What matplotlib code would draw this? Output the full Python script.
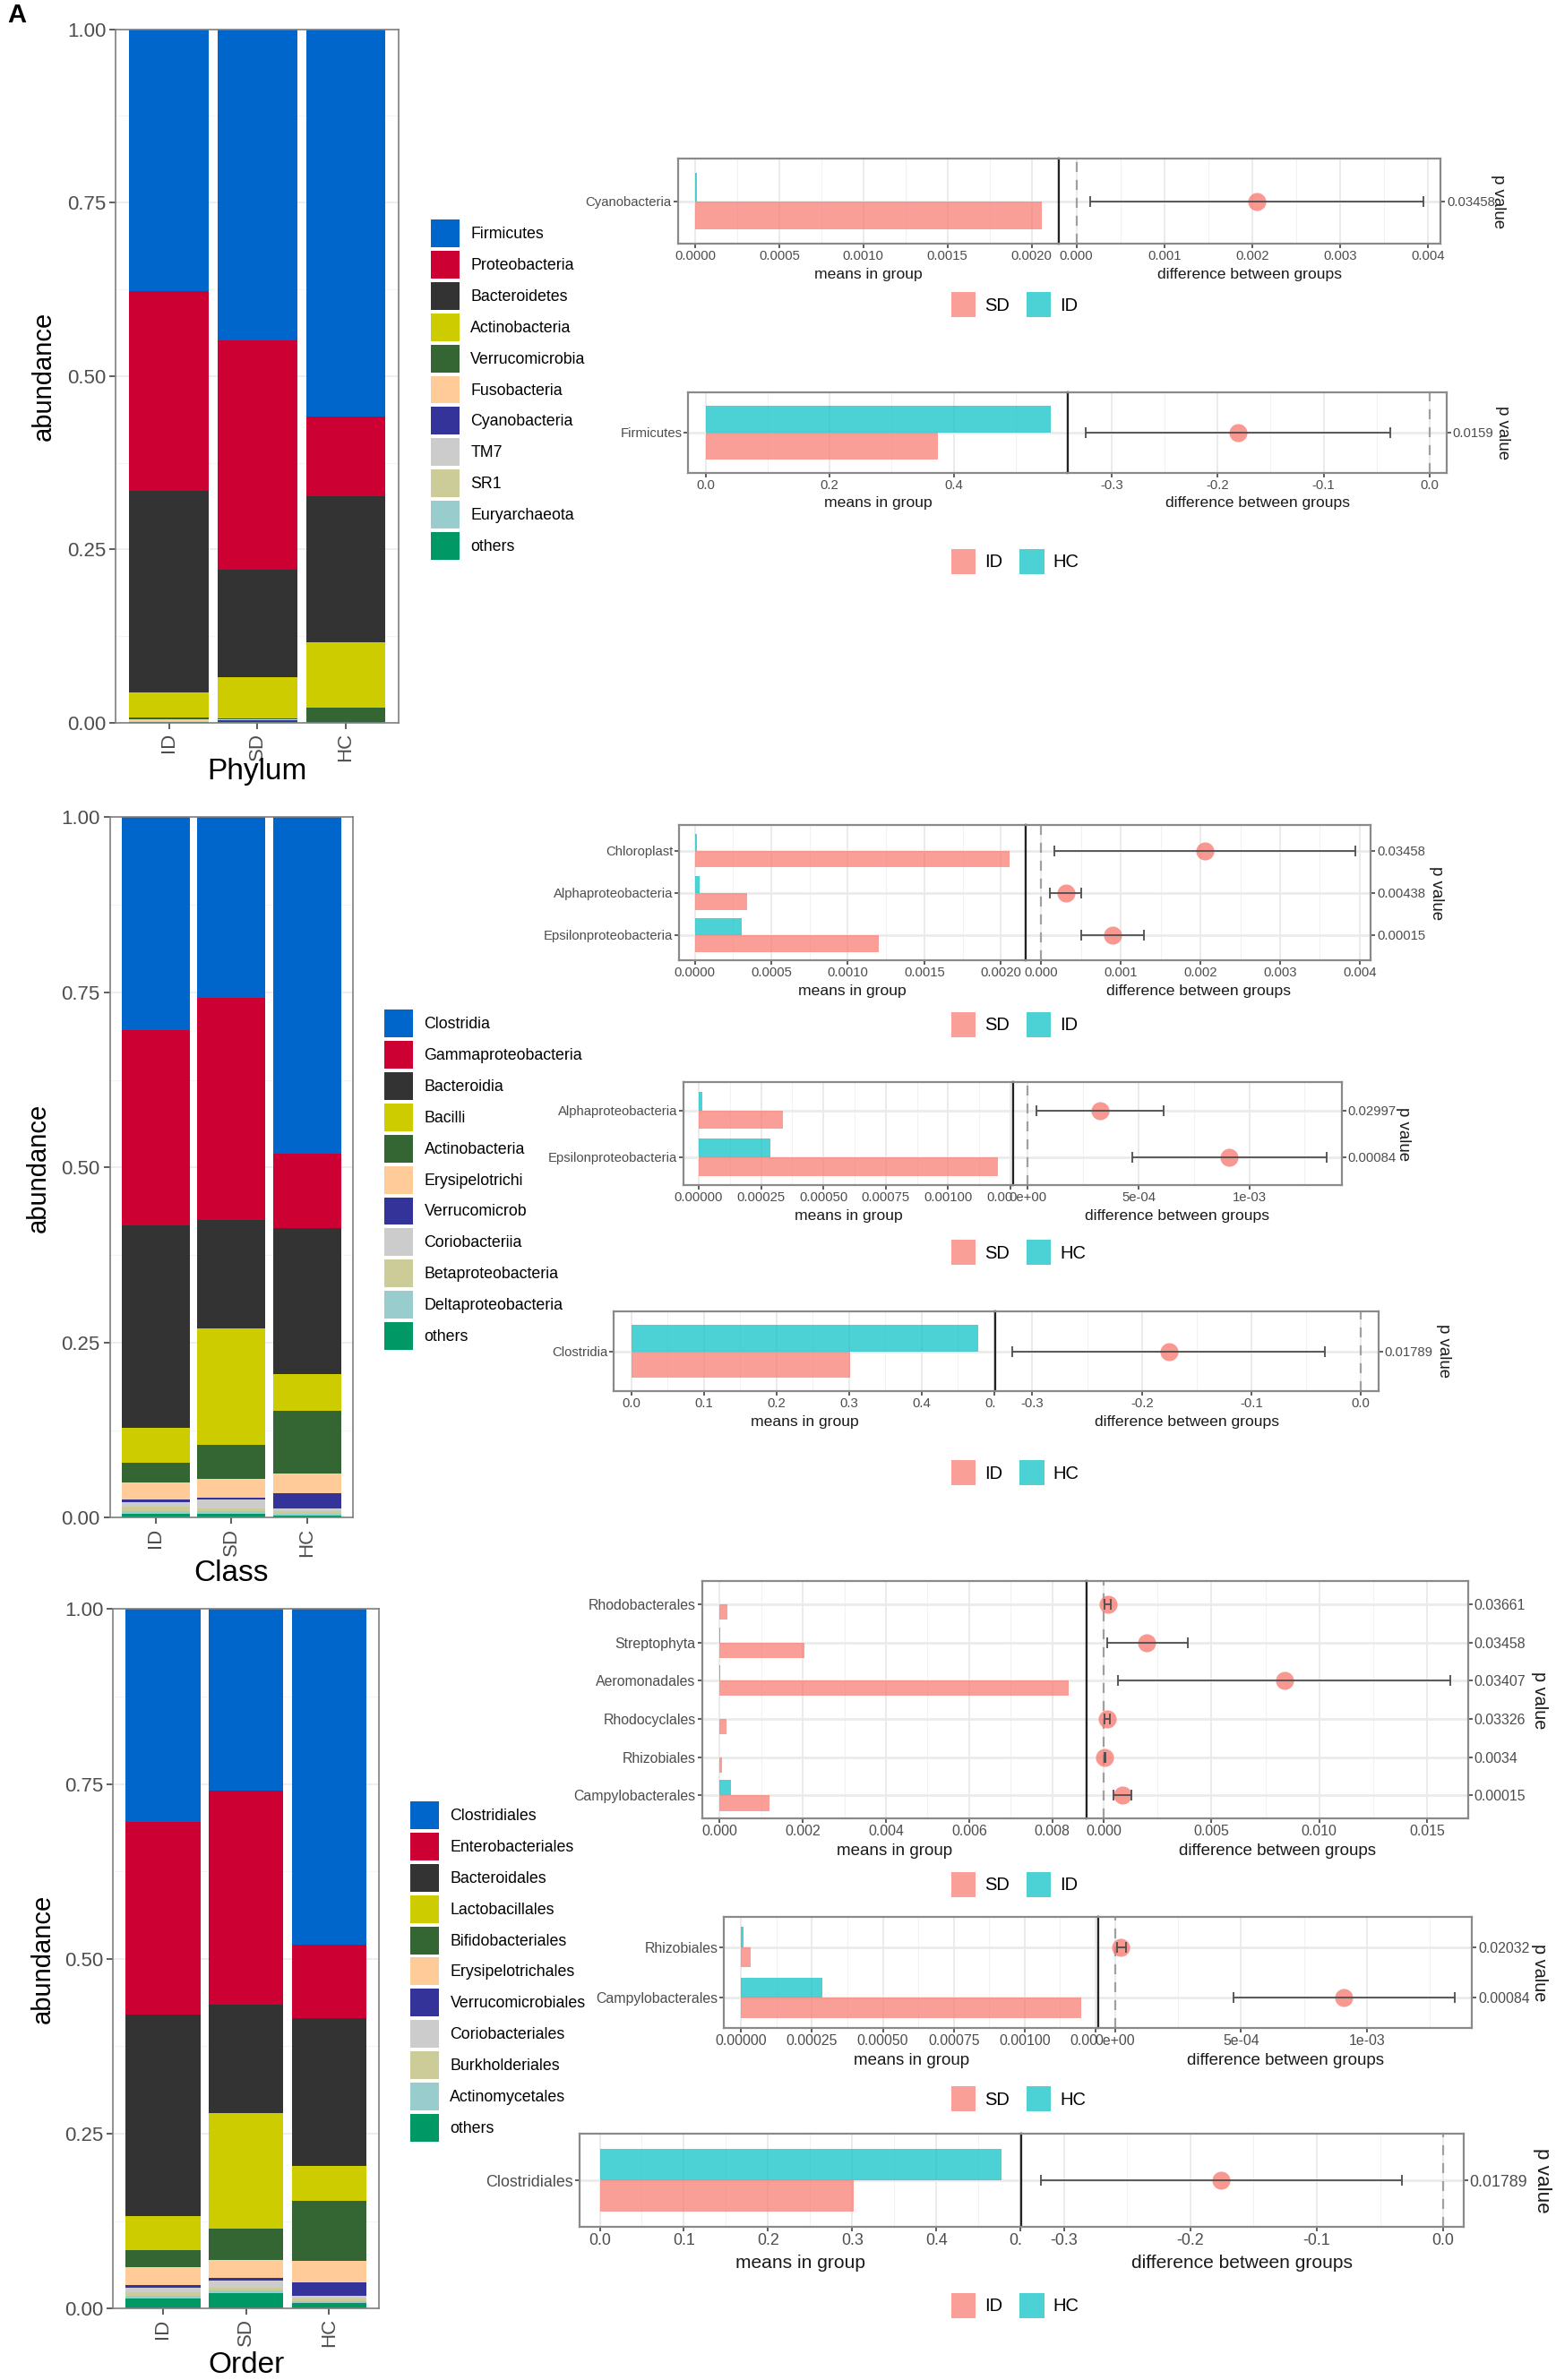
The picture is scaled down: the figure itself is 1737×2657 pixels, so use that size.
#!/usr/bin/python3

import numpy as np
import matplotlib
matplotlib.use('Agg')
import matplotlib.pyplot as plt
from matplotlib.patches import Patch, Rectangle
from matplotlib.ticker import FixedLocator


groups = ['ID', 'SD', 'HC']

tax_colors = ['#0066CC', '#CC0033', '#333333', '#CCCC00', '#336633', '#FFCC99',
              '#333399', '#CCCCCC', '#CCCC99', '#99CCCC', '#009966']

# relative abundance, legend order (top of the stack first)
phylum_names = ['Firmicutes', 'Proteobacteria', 'Bacteroidetes', 'Actinobacteria',
                'Verrucomicrobia', 'Fusobacteria', 'Cyanobacteria', 'TM7', 'SR1',
                'Euryarchaeota', 'others']
phylum_ID = [0.377, 0.289, 0.290, 0.037, 0.002, 0.003, 0.0, 0.001, 0.0, 0.0, 0.001]
phylum_SD = [0.449, 0.331, 0.155, 0.059, 0.001, 0.002, 0.002, 0.0005, 0.0, 0.0, 0.0005]
phylum_HC = [0.559, 0.115, 0.2095, 0.0945, 0.0205, 0.001, 0.0, 0.0, 0.0, 0.0, 0.0005]

class_names = ['Clostridia', 'Gammaproteobacteria', 'Bacteroidia', 'Bacilli',
               'Actinobacteria', 'Erysipelotrichi', 'Verrucomicrob', 'Coriobacteriia',
               'Betaproteobacteria', 'Deltaproteobacteria', 'others']
class_ID = [0.304, 0.278, 0.290, 0.049, 0.029, 0.024, 0.004, 0.006, 0.006, 0.004, 0.006]
class_SD = [0.258, 0.317, 0.154, 0.167, 0.049, 0.026, 0.003, 0.012, 0.004, 0.004, 0.006]
class_HC = [0.480, 0.106, 0.2094, 0.0516, 0.090, 0.0285, 0.0215, 0.004, 0.0033, 0.0027, 0.003]

order_names = ['Clostridiales', 'Enterobacteriales', 'Bacteroidales', 'Lactobacillales',
               'Bifidobacteriales', 'Erysipelotrichales', 'Verrucomicrobiales',
               'Coriobacteriales', 'Burkholderiales', 'Actinomycetales', 'others']
order_ID = [0.304, 0.276, 0.288, 0.049, 0.024, 0.025, 0.004, 0.007, 0.005, 0.003, 0.015]
order_SD = [0.259, 0.306, 0.155, 0.166, 0.045, 0.0255, 0.003, 0.0105, 0.0035, 0.004, 0.0225]
order_HC = [0.480, 0.105, 0.211, 0.050, 0.086, 0.030, 0.020, 0.003, 0.004, 0.003, 0.008]

# STAMP style comparisons (group1 = pink, group2 = cyan)
s1_feat = ['Cyanobacteria']
s1_groups = ['SD', 'ID']
s1_mean1 = [0.00206]
s1_mean2 = [0.00001]
s1_diff = [0.00205]
s1_lo = [0.00016]
s1_hi = [0.00395]
s1_p = ['0.03458']

s2_feat = ['Firmicutes']
s2_groups = ['ID', 'HC']
s2_mean1 = [0.375]
s2_mean2 = [0.557]
s2_diff = [-0.181]
s2_lo = [-0.325]
s2_hi = [-0.037]
s2_p = ['0.0159']

s3_feat = ['Chloroplast', 'Alphaproteobacteria', 'Epsilonproteobacteria']
s3_groups = ['SD', 'ID']
s3_mean1 = [0.00206, 0.000342, 0.0012]
s3_mean2 = [0.000013, 0.00003, 0.000303]
s3_diff = [0.00205, 0.000307, 0.000896]
s3_lo = [0.000158, 0.000108, 0.000498]
s3_hi = [0.00394, 0.000506, 0.001286]
s3_p = ['0.03458', '0.00438', '0.00015']

s4_feat = ['Alphaproteobacteria', 'Epsilonproteobacteria']
s4_groups = ['SD', 'HC']
s4_mean1 = [0.000339, 0.0012]
s4_mean2 = [0.000013, 0.000288]
s4_diff = [0.000324, 0.000908]
s4_lo = [0.0000387, 0.00047]
s4_hi = [0.000613, 0.00135]
s4_p = ['0.02997', '0.00084']

s5_feat = ['Clostridia']
s5_groups = ['ID', 'HC']
s5_mean1 = [0.302]
s5_mean2 = [0.478]
s5_diff = [-0.175]
s5_lo = [-0.318]
s5_hi = [-0.0325]
s5_p = ['0.01789']

s6_feat = ['Rhodobacterales', 'Streptophyta', 'Aeromonadales', 'Rhodocyclales',
           'Rhizobiales', 'Campylobacterales']
s6_groups = ['SD', 'ID']
s6_mean1 = [0.00019, 0.00205, 0.0084, 0.00017, 0.00005, 0.0012]
s6_mean2 = [0.000002, 0.00001, 0.00001, 0.000002, 0.000003, 0.00028]
s6_diff = [0.00018, 0.002, 0.00838, 0.00016, 0.00005, 0.00088]
s6_lo = [0.00005, 0.00015, 0.00066, 0.00005, 0.00002, 0.00045]
s6_hi = [0.00031, 0.0039, 0.0161, 0.00028, 0.00008, 0.00129]
s6_p = ['0.03661', '0.03458', '0.03407', '0.03326', '0.0034', '0.00015']

s7_feat = ['Rhizobiales', 'Campylobacterales']
s7_groups = ['SD', 'HC']
s7_mean1 = [0.000034, 0.0012]
s7_mean2 = [0.000009, 0.000288]
s7_diff = [0.000023, 0.000907]
s7_lo = [0.000008, 0.000469]
s7_hi = [0.000041, 0.00135]
s7_p = ['0.02032', '0.00084']

s8_feat = ['Clostridiales']
s8_groups = ['ID', 'HC']
s8_mean1 = [0.3015]
s8_mean2 = [0.477]
s8_diff = [-0.176]
s8_lo = [-0.318]
s8_hi = [-0.0329]
s8_p = ['0.01789']

# x ticks of the two panels
ticks_small = [0, 0.0005, 0.001, 0.0015, 0.002]
ticks_small_diff = [0, 0.001, 0.002, 0.003, 0.004]
ticks_tiny = [0, 0.00025, 0.0005, 0.00075, 0.001, 0.00125]
ticks_tiny_diff = [0, 0.0005, 0.001]
ticks_big = [0, 0.1, 0.2, 0.3, 0.4, 0.5]
ticks_big2 = [0, 0.2, 0.4]
ticks_neg_diff = [-0.3, -0.2, -0.1, 0.0]
ticks_order = [0, 0.002, 0.004, 0.006, 0.008]
ticks_order_diff = [0, 0.005, 0.010, 0.015]

PINK = '#F8766D'
CYAN = '#00BFC4'

plt.rcParams['font.family'] = ['Liberation Sans', 'DejaVu Sans']

# positions were measured on a 1024 x 1566 copy of the figure
W, H = 1024.0, 1566.0


def rect(x0, y0, x1, y1):
    return [x0 / W, 1 - y1 / H, (x1 - x0) / W, (y1 - y0) / H]


fig = plt.figure(figsize=(17.37, 26.57), dpi=100)
fig.text(5 / W, 1 - 10 / H, 'A', fontsize=21, fontweight='bold', va='center')


def stacked_panel(pos, names, id_vals, sd_vals, hc_vals, xlabel, ylab_x, xlab_y, leg_x, leg_top):
    x0, y0, x1, y1 = pos
    ax = fig.add_axes(rect(x0, y0, x1, y1))
    table = np.array([id_vals, sd_vals, hc_vals])
    xs = np.arange(len(groups))
    base = np.zeros(len(groups))
    for k in range(len(names) - 1, -1, -1):
        ax.bar(xs, table[:, k], 0.9, bottom=base, color=tax_colors[k], linewidth=0, zorder=2)
        base = base + table[:, k]
    ax.set_xlim(-0.6, 2.6)
    ax.set_ylim(0, 1)
    ax.set_yticks([0, 0.25, 0.5, 0.75, 1.0], ['0.00', '0.25', '0.50', '0.75', '1.00'])
    ax.yaxis.set_minor_locator(FixedLocator([0.125, 0.375, 0.625, 0.875]))
    ax.set_xticks(xs, groups, rotation=90)
    ax.grid(axis='y', which='major', color='#EBEBEB', lw=1.2)
    ax.grid(axis='y', which='minor', color='#F4F4F4', lw=0.8)
    ax.set_axisbelow(True)
    ax.tick_params(which='minor', length=0)
    ax.tick_params(which='major', length=5, width=1.1, color='#333333',
                   labelsize=16, labelcolor='#4D4D4D', pad=3)
    for s in ax.spines.values():
        s.set_color('#7F7F7F')
        s.set_linewidth(1.2)
    ax.set_ylabel('abundance', fontsize=21, color='black', va='center')
    ax.yaxis.set_label_coords((ylab_x - x0) / (x1 - x0), 0.5)
    ax.set_xlabel(xlabel, fontsize=24, color='black', va='center')
    ax.xaxis.set_label_coords(0.5, (y1 - xlab_y) / (y1 - y0))

    handles = [Patch(facecolor=c, edgecolor='none') for c in tax_colors]
    fig.legend(handles, names, loc='upper left',
               bbox_to_anchor=(leg_x / W, 1 - leg_top / H), frameon=False,
               fontsize=12.8, handlelength=1.8, handleheight=2.3, labelspacing=0.22,
               handletextpad=0.7, borderpad=0, borderaxespad=0)


stacked_panel((76.3, 19.3, 262.5, 475.5), phylum_names, phylum_ID, phylum_SD, phylum_HC,
              'Phylum', 29, 508, 283.5, 144.6)
stacked_panel((72.4, 537.7, 232.0, 998.7), class_names, class_ID, class_SD, class_HC,
              'Class', 25, 1035, 253.0, 664.5)
stacked_panel((74.5, 1058.7, 249.3, 1519.0), order_names, order_ID, order_SD, order_HC,
              'Order', 28, 1556, 270.0, 1185.4)


def stamp_panel(pos, feats, grp, m1, m2, diff, lo, hi, pvals,
                mticks, mfmt, dticks, dfmt, leg_y, pv_x, fs):
    top, bot, left, sep, right = pos
    n = len(feats)
    ys = np.arange(n)[::-1].astype(float)
    axl = fig.add_axes(rect(left, top, sep, bot), zorder=1)
    axr = fig.add_axes(rect(sep, top, right, bot), zorder=3)
    # white band: right plot hides the left tick labels that run under it
    fig.add_artist(Rectangle((sep / W, 1 - (bot + 16 * fs) / H), (right - sep) / W,
                             16 * fs / H, transform=fig.transFigure,
                             facecolor='white', edgecolor='none', zorder=2))

    axl.barh(ys + 0.2, m2, 0.4, color=CYAN, alpha=0.7, linewidth=0, zorder=2)
    axl.barh(ys - 0.2, m1, 0.4, color=PINK, alpha=0.7, linewidth=0, zorder=2)
    mtop = max(max(m1), max(m2))
    axl.set_xlim(-0.05 * mtop, 1.05 * mtop)

    d = np.array(diff)
    axr.axvline(0, color='#A0A0A0', lw=1.6, ls=(0, (5, 4)), zorder=1)
    axr.plot(d, ys, 'o', ms=14.5, color=PINK, alpha=0.75, mew=0, zorder=3)
    axr.errorbar(d, ys, xerr=[d - np.array(lo), np.array(hi) - d], fmt='none',
                 ecolor='#4D4D4D', elinewidth=1.3, capsize=4, capthick=1.3, zorder=4)
    dlo = min(0.0, min(lo))
    dhi = max(0.0, max(hi))
    pad = 0.05 * (dhi - dlo)
    axr.set_xlim(dlo - pad, dhi + pad)

    axl.set_xticks(mticks, [mfmt % v for v in mticks])
    axr.set_xticks(dticks, [dfmt % v for v in dticks])
    axl.set_yticks(ys, feats)
    axr.yaxis.tick_right()
    axr.set_yticks(ys, pvals)

    for a, ticks in ((axl, mticks), (axr, dticks)):
        a.set_ylim(-0.6, n - 0.4)
        step = ticks[1] - ticks[0]
        lo_x, hi_x = a.get_xlim()
        minor = np.arange(ticks[0] - step / 2, ticks[-1] + step, step)
        a.xaxis.set_minor_locator(FixedLocator(minor[(minor > lo_x) & (minor < hi_x)]))
        a.grid(axis='x', which='major', color='#E6E6E6', lw=1.1)
        a.grid(axis='x', which='minor', color='#F2F2F2', lw=0.8)
        a.grid(axis='y', which='major', color='#EBEBEB', lw=2.0)
        a.set_axisbelow(True)
        a.tick_params(which='minor', length=0)
        a.tick_params(which='major', length=3.5, width=1.1, color='#333333',
                      labelsize=10.7 * fs, labelcolor='#4D4D4D', pad=1.5)
        for s in a.spines.values():
            s.set_color('#8A8A8A')
            s.set_linewidth(1.6)
    axl.spines['right'].set_color('#222222')
    axr.spines['left'].set_color('#222222')

    ty = -(20 * fs) / (bot - top)
    axl.set_xlabel('means in group', fontsize=12.6 * fs, color='#1A1A1A', va='center')
    axl.xaxis.set_label_coords(0.5, ty)
    axr.set_xlabel('difference between groups', fontsize=12.6 * fs, color='#1A1A1A', va='center')
    axr.xaxis.set_label_coords(0.5, ty)

    fig.text(pv_x / W, 1 - (top + bot) / 2 / H, 'p value', rotation=270,
             ha='center', va='center', fontsize=13.4 * fs, color='#1A1A1A')

    handles = [Patch(facecolor=PINK, alpha=0.7, edgecolor='none'),
               Patch(facecolor=CYAN, alpha=0.7, edgecolor='none')]
    fig.legend(handles, grp, loc='center left', bbox_to_anchor=(626 / W, 1 - leg_y / H),
               frameon=False, ncol=2, fontsize=14.5, handlelength=1.35, handleheight=1.76,
               handletextpad=0.5, columnspacing=0.95, borderpad=0, borderaxespad=0)


stamp_panel((104.5, 160.5, 446, 697, 948), s1_feat, s1_groups, s1_mean1, s1_mean2,
            s1_diff, s1_lo, s1_hi, s1_p, ticks_small, '%.4f', ticks_small_diff, '%.3f',
            200.5, 986, 1.0)
stamp_panel((258, 311, 453, 703, 952), s2_feat, s2_groups, s2_mean1, s2_mean2,
            s2_diff, s2_lo, s2_hi, s2_p, ticks_big2, '%.1f', ticks_neg_diff, '%.1f',
            369.5, 989, 1.0)
stamp_panel((543, 632, 447, 675, 902), s3_feat, s3_groups, s3_mean1, s3_mean2,
            s3_diff, s3_lo, s3_hi, s3_p, ticks_small, '%.4f', ticks_small_diff, '%.3f',
            674, 945.5, 1.0)
stamp_panel((712, 780, 450, 666.6, 883), s4_feat, s4_groups, s4_mean1, s4_mean2,
            s4_diff, s4_lo, s4_hi, s4_p, ticks_tiny, '%.5f', ticks_tiny_diff, '%.0e',
            824, 923.5, 1.0)
stamp_panel((862.7, 915.5, 404, 655, 907), s5_feat, s5_groups, s5_mean1, s5_mean2,
            s5_diff, s5_lo, s5_hi, s5_p, ticks_big, '%.1f', ticks_neg_diff, '%.1f',
            969, 950, 1.0)
stamp_panel((1040.5, 1196.5, 462, 715, 966), s6_feat, s6_groups, s6_mean1, s6_mean2,
            s6_diff, s6_lo, s6_hi, s6_p, ticks_order, '%.3f', ticks_order_diff, '%.3f',
            1240, 1013, 1.07)
stamp_panel((1261, 1334.5, 476.5, 722.8, 968.7), s7_feat, s7_groups, s7_mean1, s7_mean2,
            s7_diff, s7_lo, s7_hi, s7_p, ticks_tiny, '%.5f', ticks_tiny_diff, '%.0e',
            1381, 1013, 1.07)
stamp_panel((1404, 1465.3, 381.5, 672, 963), s8_feat, s8_groups, s8_mean1, s8_mean2,
            s8_diff, s8_lo, s8_hi, s8_p, ticks_big, '%.1f', ticks_neg_diff, '%.1f',
            1517, 1015, 1.2)

fig.savefig('out.png', dpi=100)
